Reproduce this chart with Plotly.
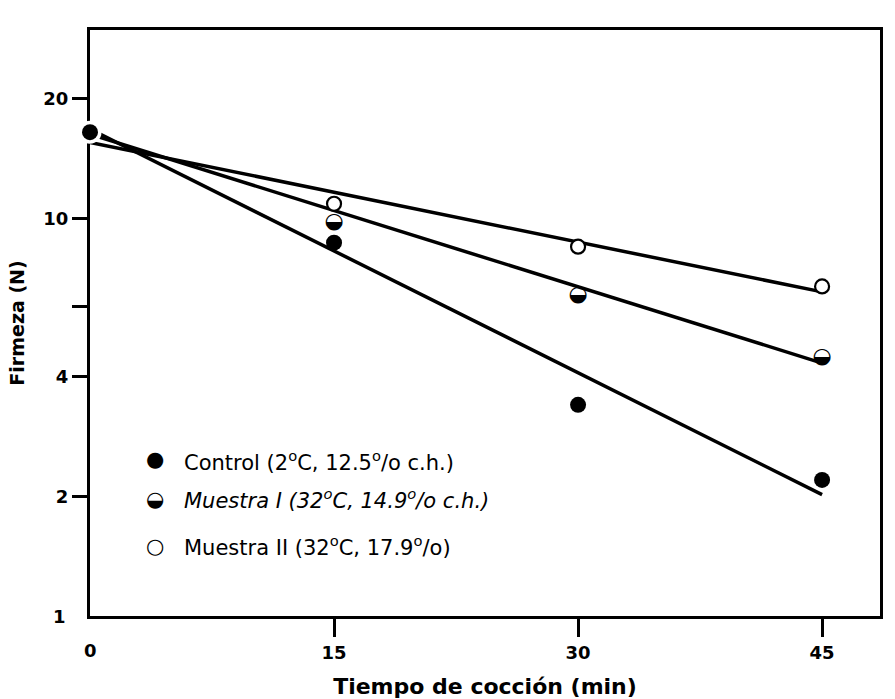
import plotly.graph_objects as go

# Firmness (N) vs cooking time (min), log scale
tiempo = [0, 15, 30, 45]
control = [16.5, 8.7, 3.4, 2.2]
muestra_1_t = [15, 30, 45]
muestra_1 = [9.8, 6.4, 4.46]
muestra_2_t = [15, 30, 45]
muestra_2 = [10.9, 8.5, 6.75]

# fitted regression lines (end points)
fit_t = [0, 45]
fit_control = [16.8, 2.02]
fit_muestra_1 = [16.3, 4.33]
fit_muestra_2 = [15.55, 6.54]

x_ticks = [15, 30, 45]
y_ticks = [2, 4, 6, 10, 20]
y_tick_text = ["2", "4", "", "10", "20"]
y_ticks_right = [2, 4, 6, 8, 10, 20]

legend_labels = [
    "Control (2<sup>o</sup>C, 12.5<sup>o</sup>/o c.h.)",
    "<i>Muestra I (32<sup>o</sup>C, 14.9<sup>o</sup>/o c.h.)</i>",
    "Muestra II (32<sup>o</sup>C, 17.9<sup>o</sup>/o)",
]
legend_keys = ["●", "◒", "○"]

W, H = 895, 699
L, R, T, B = 90, 15, 30, 83
PW, PH = W - L - R, H - T - B
X_MAX = 48.56
Y_LOG_MAX = 1.4746

FONT = "DejaVu Sans"
LW = 3.5

fig = go.Figure()

for ys in (fit_control, fit_muestra_1, fit_muestra_2):
    fig.add_trace(go.Scatter(
        x=fit_t, y=ys, mode="lines",
        line=dict(color="black", width=LW),
        hoverinfo="skip", showlegend=False, cliponaxis=False,
    ))

# white halo behind the first control point, where it sits on the frame
fig.add_trace(go.Scatter(
    x=tiempo[:1], y=control[:1], mode="markers",
    marker=dict(symbol="circle", color="white", size=23, line=dict(width=0)),
    hoverinfo="skip", showlegend=False, cliponaxis=False,
))

fig.add_trace(go.Scatter(
    x=tiempo, y=control, mode="markers",
    marker=dict(symbol="circle", color="black", size=16,
                line=dict(color="black", width=0)),
    showlegend=False, cliponaxis=False,
))

fig.add_trace(go.Scatter(
    x=muestra_2_t, y=muestra_2, mode="markers",
    marker=dict(symbol="circle", color="white", size=14,
                line=dict(color="black", width=2.2)),
    showlegend=False, cliponaxis=False,
))

fig.add_trace(go.Scatter(
    x=muestra_1_t, y=muestra_1, mode="text",
    text=["◒"] * len(muestra_1),
    textposition="middle center",
    textfont=dict(family=FONT, size=22, color="black"),
    showlegend=False, cliponaxis=False,
))

axis_common = dict(
    showgrid=False, zeroline=False, showline=True,
    linecolor="black", linewidth=3,
    ticks="outside", tickcolor="black", tickwidth=3,
    layer="below traces", automargin=False,
)

fig.update_layout(
    width=W, height=H,
    margin=dict(l=L, r=R, t=T, b=B),
    paper_bgcolor="white", plot_bgcolor="white",
    showlegend=False,
    xaxis=dict(
        range=[0, X_MAX], tickvals=x_ticks,
        ticklen=18, mirror=True,
        tickfont=dict(family=FONT, size=18, color="black", weight="bold"),
        title=dict(text="Tiempo de cocción (min)", standoff=18,
                   font=dict(family=FONT, size=22, color="black", weight="bold")),
        **axis_common,
    ),
    yaxis=dict(
        type="log", range=[0, Y_LOG_MAX],
        tickvals=y_ticks, ticktext=y_tick_text,
        ticklen=15, mirror=True,
        tickfont=dict(family=FONT, size=18, color="black", weight="bold"),
        title=dict(text="Firmeza (N)", standoff=14,
                   font=dict(family=FONT, size=19, color="black", weight="bold")),
        **axis_common,
    ),
    xaxis2=dict(
        overlaying="x", side="top", anchor="y",
        range=[0, X_MAX], tickvals=x_ticks, ticklen=18,
        showticklabels=False, **axis_common,
    ),
    yaxis2=dict(
        overlaying="y", side="right", anchor="x",
        type="log", range=[0, Y_LOG_MAX], tickvals=y_ticks_right,
        ticklen=15, showticklabels=False, **axis_common,
    ),
)

def px_x(px):
    return (px - L) / PW

def px_y(py):
    return (H - B - py) / PH

# corner labels "0" and "1" (no tick marks at the origin)
fig.add_annotation(x=0, y=0, xref="x", yref="paper", text="0",
                   showarrow=False, yanchor="middle", yshift=-34,
                   font=dict(family=FONT, size=18, color="black", weight="bold"))
fig.add_annotation(x=0, y=0, xref="paper", yref="y", text="1",
                   showarrow=False, xanchor="right", xshift=-22,
                   font=dict(family=FONT, size=18, color="black", weight="bold"))

# legend
key_y = [459, 499, 546]
text_y = [461, 499, 546]
for key, lab, ky, ty in zip(legend_keys, legend_labels, key_y, text_y):
    fig.add_annotation(x=px_x(155), y=px_y(ky), xref="paper", yref="paper",
                       text=key, showarrow=False, xanchor="center", yanchor="middle",
                       font=dict(family=FONT, size=21, color="black"))
    fig.add_annotation(x=px_x(182), y=px_y(ty), xref="paper", yref="paper",
                       text=lab, showarrow=False, xanchor="left", yanchor="middle",
                       font=dict(family=FONT, size=21, color="black"))

fig.write_html("out.html")
